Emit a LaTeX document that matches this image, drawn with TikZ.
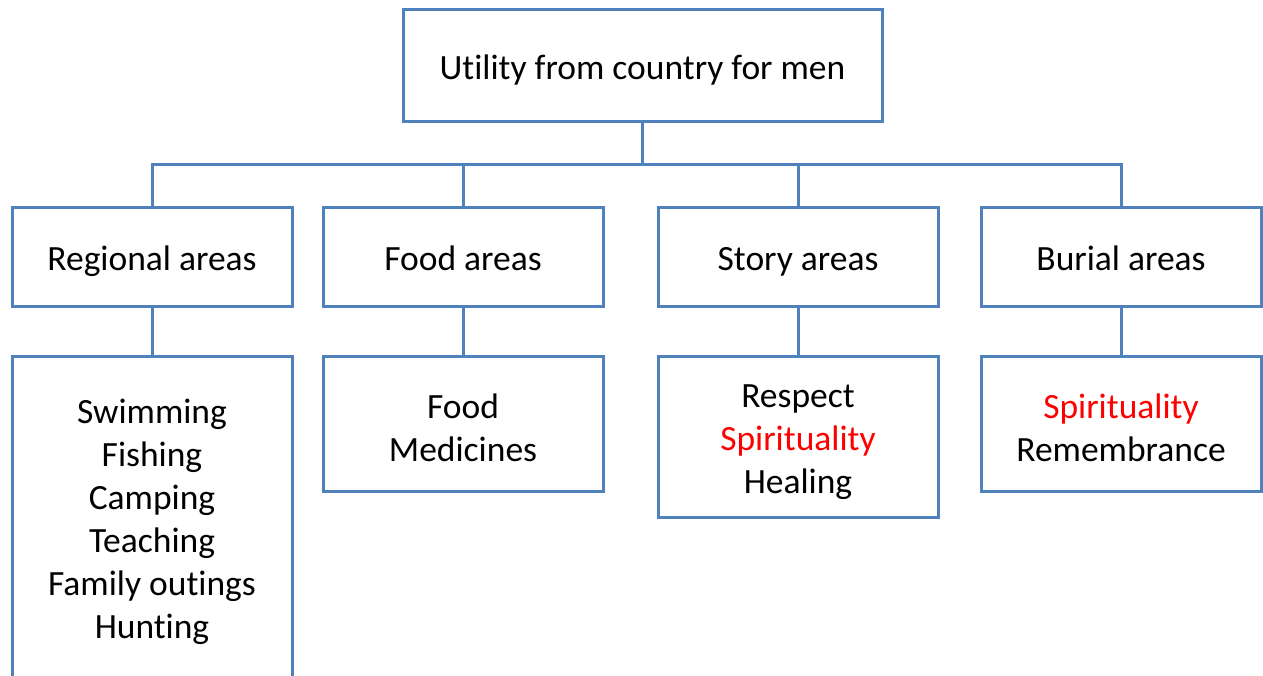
\documentclass[tikz,border=0pt]{standalone}
\usepackage{fontspec}
\setmainfont{Carlito}[Ligatures=NoCommon]
\definecolor{boxblue}{HTML}{4F81BD}
\definecolor{spred}{HTML}{FF0000}
\newcommand\mytopstrut{\rule{0pt}{34pt}}
\begin{document}
\begin{tikzpicture}[x=1pt,y=-1pt,
  box/.style={draw=boxblue, line width=3pt, fill=white, inner sep=0pt, align=center,
    font=\fontsize{35.5}{43}\selectfont, text=black, minimum width=280},
  one/.style={text height=30pt, text depth=4pt},
  link/.style={draw=boxblue, line width=3pt}]
\useasboundingbox[fill=white] (0,0) rectangle (1263,676);
\coordinate (bus) at (642.5,165);
% boxes
\node[box, one, minimum width=479, minimum height=112, text height=32pt, text depth=4pt] (top) at (642.5,66) {Utility from country for men};
\node[box, one, minimum height=98] (ra) at (152,257) {Regional areas};
\node[box, one, minimum height=98] (fa) at (463,257) {Food areas};
\node[box, one, minimum height=98] (sa) at (798,257) {Story areas};
\node[box, one, minimum height=98] (ba) at (1121,257) {Burial areas};
\node[box, minimum height=322] (rb) at (152,517) {\mytopstrut Swimming\\Fishing\\Camping\\Teaching\\Family outings\\Hunting};
\node[box, minimum height=135] (fb) at (463,423.5) {\mytopstrut Food\\Medicines};
\node[box, minimum height=161] (sb) at (798,436.5) {\mytopstrut Respect\\\textcolor{spred}{Spirituality}\\Healing};
\node[box, minimum height=135] (bb) at (1121,423.5) {\mytopstrut\textcolor{spred}{Spirituality}\\Remembrance};
% connectors
\draw[link] (top.south) -- (bus);
\draw[link] (ra.north) |- (bus) -| (ba.north);
\draw[link] (fa.north) -- (fa.north |- bus);
\draw[link] (sa.north) -- (sa.north |- bus);
\draw[link] (ra.south) -- (rb.north);
\draw[link] (fa.south) -- (fb.north);
\draw[link] (sa.south) -- (sb.north);
\draw[link] (ba.south) -- (bb.north);
\end{tikzpicture}
\end{document}
